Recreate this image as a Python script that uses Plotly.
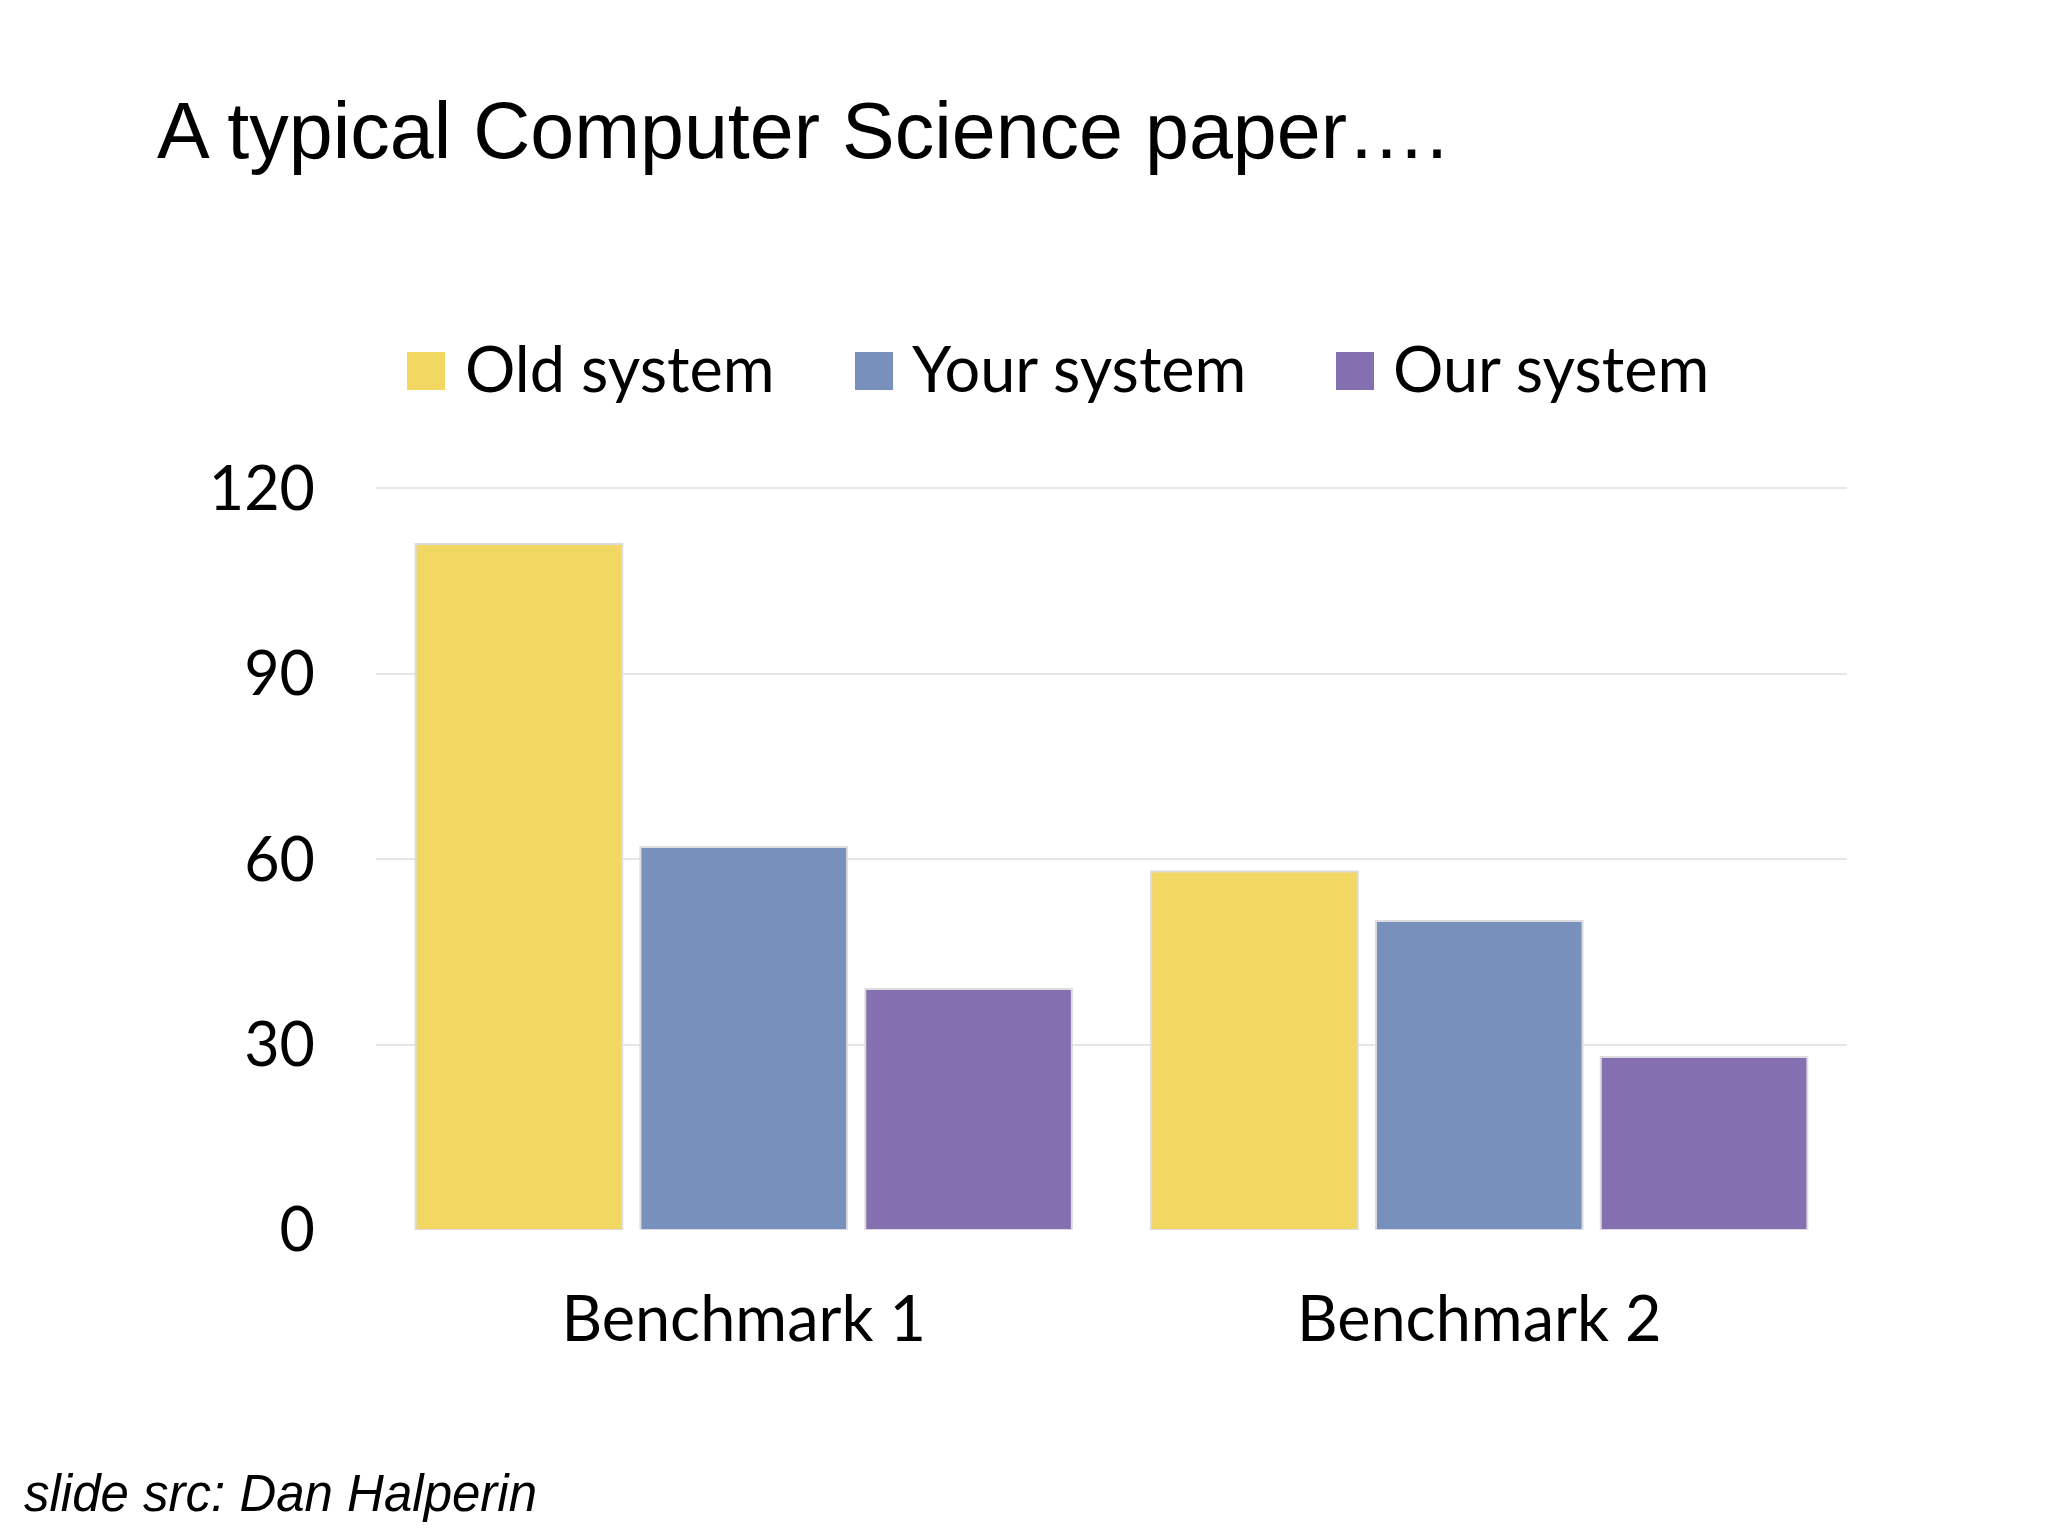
import plotly.graph_objects as go

categories = ["Benchmark 1", "Benchmark 2"]
series_names = ["Old system", "Your system", "Our system"]
old_system = [111, 58]
your_system = [62, 50]
our_system = [39, 28]
colors = ["#F2D862", "#7890BC", "#8470B0"]
y_ticks = [0, 30, 60, 90, 120]

OFF = 8  # browser body margin
W, H = 2048, 1536
# target page coords of plot area
PX0, PX1, PY0, PY1 = 376, 1847, 486, 1230
L = PX0 - OFF
T = PY0 - OFF
R = W - (PX1 - OFF)
B = H - (PY1 - OFF)
pw = PX1 - PX0
ph = PY1 - PY0

FONT = "Lato, Calibri, sans-serif"
ARIAL = "Liberation Sans, Arial, sans-serif"


def px_to_paper_x(px):
    return (px - PX0) / pw


def py_to_paper_y(py):
    return (PY1 - py) / ph


fig = go.Figure()
for name, vals, col in zip(series_names, [old_system, your_system, our_system], colors):
    fig.add_trace(go.Bar(
        x=categories, y=vals, name=name,
        marker=dict(color=col, line=dict(color="#DCDCE0", width=2)),
        showlegend=False,
    ))

fig.update_layout(
    width=W, height=H, autosize=False,
    margin=dict(l=L, r=R, t=T, b=B, pad=0),
    paper_bgcolor="white", plot_bgcolor="white",
    barmode="group", bargap=0.083, bargroupgap=0.081,
    title=dict(
        text="A typical Computer Science paper….",
        font=dict(family=ARIAL, size=79, color="black"),
        xref="container", x=(157 - OFF) / W, xanchor="left",
        yref="container", y=1 - (130 - OFF) / H, yanchor="middle",
    ),
    xaxis=dict(
        showgrid=False, zeroline=False, showline=False, ticks="",
        tickfont=dict(family=FONT, size=63, color="black"),
        ticklabelstandoff=47,
    ),
    yaxis=dict(
        range=[0, 120.4], tickvals=y_ticks, showgrid=True,
        gridcolor="#E6E6E6", gridwidth=2, zeroline=False, showline=False, ticks="",
        tickfont=dict(family=FONT, size=61, color="black"),
        ticklabelstandoff=60,
    ),
)

# legend drawn manually (large squares), page coordinates
legend_sq_x = [426, 874, 1355]
legend_txt_x = [463, 910, 1391]
legend_sq_y = 371
legend_txt_y = 368
for name, col, sx, tx in zip(series_names, colors, legend_sq_x, legend_txt_x):
    fig.add_shape(
        type="rect", xref="paper", yref="paper",
        xsizemode="pixel", ysizemode="pixel",
        xanchor=px_to_paper_x(sx), yanchor=py_to_paper_y(legend_sq_y),
        x0=-19, x1=19, y0=-19, y1=19,
        fillcolor=col, line=dict(width=0),
    )
    fig.add_annotation(
        text=name, xref="paper", yref="paper",
        x=px_to_paper_x(tx), y=py_to_paper_y(legend_txt_y),
        xanchor="left", yanchor="middle", showarrow=False,
        font=dict(family=FONT, size=63, color="black"),
    )

fig.add_annotation(
    text="<i>slide src: Dan Halperin</i>", xref="paper", yref="paper",
    x=px_to_paper_x(22), y=py_to_paper_y(1493),
    xanchor="left", yanchor="middle", showarrow=False,
    font=dict(family=ARIAL, size=51, color="black"),
)

fig.write_html("out.html")
